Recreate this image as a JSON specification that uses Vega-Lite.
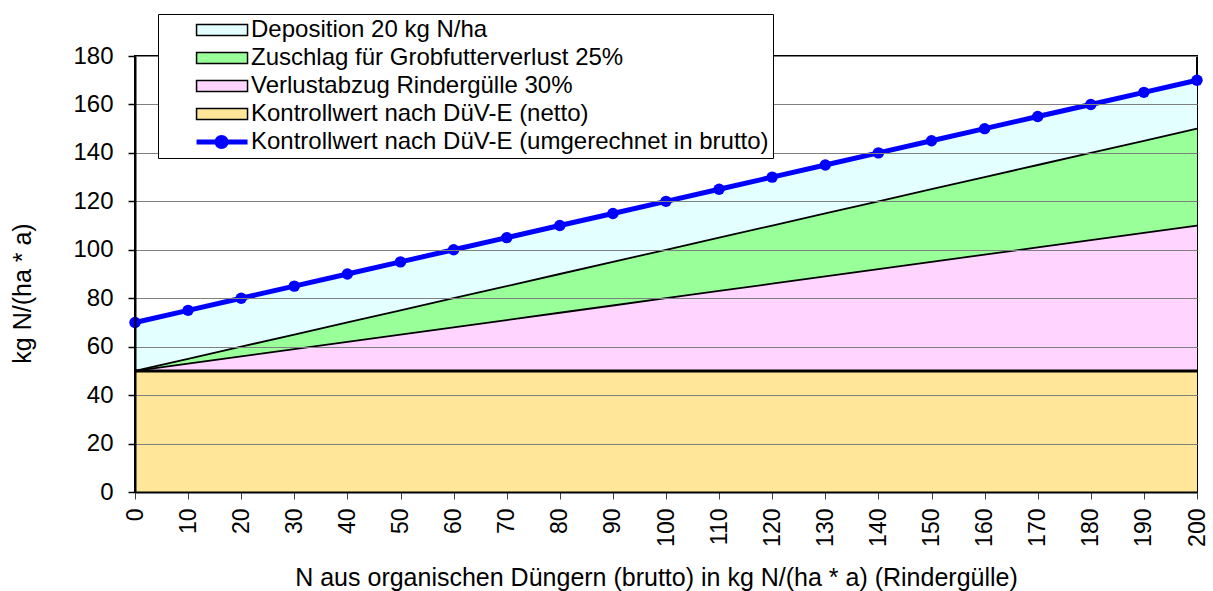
{
  "$schema": "https://vega.github.io/schema/vega-lite/v6.json",
  "width": 1062,
  "height": 436,
  "autosize": {"type": "none"},
  "padding": {"left": 135, "top": 56, "right": 16, "bottom": 99},
  "background": "white",
  "config": {
    "font": "Liberation Sans",
    "view": {"stroke": "black", "strokeWidth": 2},
    "legend": {"symbolStrokeColor": "black", "symbolStrokeWidth": 1.5}
  },
  "data": {
    "values": [
      {"x": 0, "netto": 50, "verlust": 50, "zuschlag": 50, "brutto": 70},
      {"x": 10, "netto": 50, "verlust": 53, "zuschlag": 55, "brutto": 75},
      {"x": 20, "netto": 50, "verlust": 56, "zuschlag": 60, "brutto": 80},
      {"x": 30, "netto": 50, "verlust": 59, "zuschlag": 65, "brutto": 85},
      {"x": 40, "netto": 50, "verlust": 62, "zuschlag": 70, "brutto": 90},
      {"x": 50, "netto": 50, "verlust": 65, "zuschlag": 75, "brutto": 95},
      {"x": 60, "netto": 50, "verlust": 68, "zuschlag": 80, "brutto": 100},
      {"x": 70, "netto": 50, "verlust": 71, "zuschlag": 85, "brutto": 105},
      {"x": 80, "netto": 50, "verlust": 74, "zuschlag": 90, "brutto": 110},
      {"x": 90, "netto": 50, "verlust": 77, "zuschlag": 95, "brutto": 115},
      {"x": 100, "netto": 50, "verlust": 80, "zuschlag": 100, "brutto": 120},
      {"x": 110, "netto": 50, "verlust": 83, "zuschlag": 105, "brutto": 125},
      {"x": 120, "netto": 50, "verlust": 86, "zuschlag": 110, "brutto": 130},
      {"x": 130, "netto": 50, "verlust": 89, "zuschlag": 115, "brutto": 135},
      {"x": 140, "netto": 50, "verlust": 92, "zuschlag": 120, "brutto": 140},
      {"x": 150, "netto": 50, "verlust": 95, "zuschlag": 125, "brutto": 145},
      {"x": 160, "netto": 50, "verlust": 98, "zuschlag": 130, "brutto": 150},
      {"x": 170, "netto": 50, "verlust": 101, "zuschlag": 135, "brutto": 155},
      {"x": 180, "netto": 50, "verlust": 104, "zuschlag": 140, "brutto": 160},
      {"x": 190, "netto": 50, "verlust": 107, "zuschlag": 145, "brutto": 165},
      {"x": 200, "netto": 50, "verlust": 110, "zuschlag": 150, "brutto": 170}
    ]
  },
  "encoding": {
    "x": {
      "field": "x",
      "type": "quantitative",
      "scale": {"domain": [0, 200], "nice": false, "zero": true},
      "axis": {
        "title": "N aus organischen Düngern (brutto) in kg N/(ha * a) (Rindergülle)",
        "values": [0, 10, 20, 30, 40, 50, 60, 70, 80, 90, 100, 110, 120, 130, 140, 150, 160, 170, 180, 190, 200],
        "grid": false,
        "labelAngle": 270,
        "labelFontSize": 23,
        "labelColor": "black",
        "labelPadding": 9,
        "domainColor": "black",
        "domainWidth": 2,
        "tickColor": "#404040",
        "tickSize": 7,
        "tickWidth": 1,
        "titleFontSize": 25,
        "titleFontWeight": "normal",
        "titleColor": "black",
        "titleX": 521,
        "titleY": 85,
        "titleBaseline": "middle",
        "titleAlign": "center",
        "zindex": 1
      }
    }
  },
  "layer": [
    {
      "mark": {"type": "area"},
      "encoding": {
        "y": {
          "field": "netto",
          "type": "quantitative",
          "scale": {"domain": [0, 180], "nice": false},
          "axis": {
            "title": "kg N/(ha * a)",
            "values": [0, 20, 40, 60, 80, 100, 120, 140, 160, 180],
            "grid": true,
            "gridColor": "#808080",
            "gridWidth": 1,
            "domainColor": "black",
            "domainWidth": 2,
            "tickColor": "black",
            "tickSize": 7,
            "tickWidth": 1.5,
            "labelFontSize": 24,
            "labelColor": "black",
            "labelPadding": 15,
            "titleFontSize": 25,
            "titleFontWeight": "normal",
            "titleColor": "black",
            "titleX": -113,
            "titleY": 237,
            "titleAlign": "center",
            "titleBaseline": "middle",
            "zindex": 1
          }
        },
        "y2": {"datum": 0},
        "color": {
          "datum": "Kontrollwert nach DüV-E (netto)",
          "scale": {
            "domain": ["Deposition 20 kg N/ha", "Zuschlag für Grobfutterverlust 25%", "Verlustabzug Rindergülle 30%", "Kontrollwert nach DüV-E (netto)", "Kontrollwert nach DüV-E (umgerechnet in brutto)"],
            "range": ["#E3FFFF", "#99FF99", "#FFD5FF", "#FFE699", "#0000FF"]
          },
          "legend": {
            "title": null,
            "orient": "none",
            "legendX": 23,
            "legendY": -42,
            "fillColor": "white",
            "strokeColor": "black",
            "padding": 4,
            "rowPadding": 4,
            "symbolSize": 121,
            "symbolStrokeColor": "black",
            "symbolStrokeWidth": 1.5,
            "labelOffset": 65,
            "labelFontSize": 24,
            "labelColor": "black",
            "labelLimit": 0,
            "labelExpr": "datum.label + '\u00a0\u00a0\u00a0\u00a0'",
            "zindex": 2,
            "encode": {
              "symbols": {
                "update": {
                  "shape": {"signal": "datum.value == 'Kontrollwert nach DüV-E (umgerechnet in brutto)' ? 'M4.1,-0.45H13.37V0.45H4.1Z M9.92,0A1.27,1.27 0 1 1 7.38,0A1.27,1.27 0 1 1 9.92,0Z' : 'M4.1,-1H13.37V1H4.1Z'"},
                  "fill": {"signal": "scale('color', datum.value)"},
                  "fillOpacity": {"value": 1},
                  "opacity": {"value": 1},
                  "stroke": {"signal": "datum.value == 'Kontrollwert nach DüV-E (umgerechnet in brutto)' ? null : 'black'"},
                  "strokeOpacity": {"value": 1},
                  "strokeWidth": {"value": 1.5}
                }
              }
            }
          }
        }
      }
    },
    {
      "mark": {"type": "area"},
      "encoding": {
        "y": {"field": "verlust", "type": "quantitative"},
        "y2": {"field": "netto"},
        "color": {"datum": "Verlustabzug Rindergülle 30%"}
      }
    },
    {
      "mark": {"type": "area"},
      "encoding": {
        "y": {"field": "zuschlag", "type": "quantitative"},
        "y2": {"field": "verlust"},
        "color": {"datum": "Zuschlag für Grobfutterverlust 25%"}
      }
    },
    {
      "mark": {"type": "area"},
      "encoding": {
        "y": {"field": "brutto", "type": "quantitative"},
        "y2": {"field": "zuschlag"},
        "color": {"datum": "Deposition 20 kg N/ha"}
      }
    },
    {
      "mark": {"type": "line", "color": "black", "strokeWidth": 1.8},
      "encoding": {"y": {"field": "verlust", "type": "quantitative"}}
    },
    {
      "mark": {"type": "line", "color": "black", "strokeWidth": 1.8},
      "encoding": {"y": {"field": "zuschlag", "type": "quantitative"}}
    },
    {
      "mark": {"type": "line", "color": "black", "strokeWidth": 3},
      "encoding": {"y": {"field": "netto", "type": "quantitative"}}
    },
    {
      "mark": {"type": "line", "color": "#0000FF", "strokeWidth": 5},
      "encoding": {
        "y": {"field": "brutto", "type": "quantitative"}
      }
    },
    {
      "mark": {"type": "point", "filled": true, "size": 130, "opacity": 1},
      "encoding": {
        "y": {"field": "brutto", "type": "quantitative"},
        "color": {"datum": "Kontrollwert nach DüV-E (umgerechnet in brutto)"}
      }
    }
  ]
}
